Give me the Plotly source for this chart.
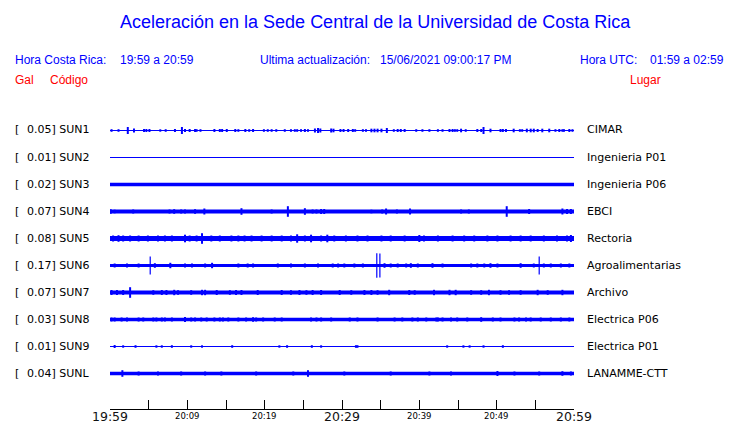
import plotly.graph_objects as go

# ---------------- data ----------------
stations = ["SUN1", "SUN2", "SUN3", "SUN4", "SUN5", "SUN6", "SUN7", "SUN8", "SUN9", "SUNL"]
peak_gal = ["0.05", "0.01", "0.02", "0.07", "0.08", "0.17", "0.07", "0.03", "0.01", "0.04"]
places = ["CIMAR", "Ingenieria P01", "Ingenieria P06", "EBCI", "Rectoria",
          "Agroalimentarias", "Archivo", "Electrica P06", "Electrica P01", "LANAMME-CTT"]

# background noise half-amplitude of each trace (trace spacing = 27 units)
noise_level = [0.6, 0.5, 1.8, 1.9, 2.4, 1.6, 2.0, 1.8, 0.5, 1.7]

# minutes after 19:59 and half-amplitude of visible bursts
sun1_t = [0.2, 1.1, 2.3, 3.1, 4.4, 4.7, 5.1, 6.5, 7.2, 8.4, 9.3, 9.7, 10.3, 11.0, 11.2, 11.7, 13.5, 14.2, 14.5,
          15.1, 16.2, 16.6, 17.5, 18.0, 18.5, 19.9, 20.4, 20.9, 21.5, 22.6, 23.4, 23.9, 24.2, 24.7, 25.2, 25.6,
          26.5, 26.9, 27.2, 28.6, 28.9, 29.8, 30.2, 30.8, 31.4, 31.7, 32.7, 33.1, 33.8, 34.2, 34.6, 35.1, 35.8,
          36.7, 37.2, 37.6, 38.1, 39.6, 40.4, 41.3, 42.4, 43.0, 43.9, 44.3, 44.6, 44.9, 45.4, 46.0, 47.5, 48.0,
          48.3, 49.2, 50.5, 50.8, 51.2, 52.2, 53.0, 53.3, 53.9, 54.4, 54.8, 55.3, 55.9, 56.8, 57.6, 58.1, 58.5,
          58.7, 59.4, 59.8]
sun1_a = [1.3, 1.3, 3.5, 2.0, 1.5, 1.5, 1.5, 1.2, 1.3, 1.5, 3.5, 1.5, 1.5, 1.5, 1.3, 1.3, 1.5, 1.5, 1.5,
          1.5, 1.5, 1.3, 1.5, 1.3, 1.5, 1.3, 1.3, 1.3, 1.3, 1.3, 1.3, 1.3, 1.3, 1.3, 1.5, 1.3,
          2.0, 2.5, 2.0, 2.0, 1.8, 1.5, 1.5, 1.5, 1.5, 1.3, 1.3, 1.3, 1.8, 1.8, 1.8, 1.8, 2.5,
          1.3, 1.5, 1.5, 1.5, 1.3, 1.3, 1.3, 1.3, 1.3, 1.5, 1.5, 1.3, 1.3, 1.8, 1.3, 1.5, 1.5,
          3.5, 1.8, 1.5, 1.5, 1.5, 1.8, 1.3, 1.3, 1.8, 1.8, 1.8, 1.5, 1.8, 1.8, 1.3, 1.5, 1.3,
          1.3, 1.5, 1.3]

sun2_t = []
sun2_a = []

sun3_t = []
sun3_a = []

sun4_t = [0.1, 0.6, 3.0, 6.0, 7.7, 8.3, 9.2, 9.7, 11.0, 12.2, 17.0, 20.9, 23.0, 25.2, 26.2, 26.7, 27.3, 27.7,
          33.8, 35.2, 35.7, 37.1, 38.8, 45.4, 46.4, 51.3, 54.2, 58.5, 59.1, 59.6]
sun4_a = [2.3, 1.8, 2.0, 1.5, 2.0, 2.3, 2.0, 2.0, 2.3, 3.0, 3.3, 2.0, 5.3, 3.3, 2.0, 2.0, 2.5, 2.5,
          1.8, 2.0, 3.0, 2.0, 3.0, 2.0, 2.0, 5.3, 2.5, 3.0, 2.5, 2.5]

sun5_t = [0.4, 1.1, 1.7, 2.6, 3.7, 4.9, 6.2, 7.1, 8.0, 9.7, 10.3, 11.2, 11.9, 13.1, 14.2, 15.7, 16.6, 17.4,
          18.3, 19.6, 20.9, 22.2, 23.4, 24.2, 25.2, 26.0, 27.3, 28.1, 29.0, 30.5, 32.0, 33.3, 35.1, 36.3,
          38.1, 40.0, 40.6, 42.4, 44.3, 45.8, 47.1, 48.8, 50.1, 51.8, 53.1, 54.4, 56.1, 57.8, 59.1, 59.6]
sun5_a = [3.0, 3.3, 3.0, 3.0, 3.0, 3.0, 3.0, 3.0, 3.0, 3.8, 3.0, 3.0, 5.3, 3.0, 3.0, 3.0, 3.0, 3.0,
          3.0, 3.0, 3.0, 3.0, 3.0, 4.2, 3.0, 3.8, 3.0, 3.8, 3.0, 3.0, 3.0, 3.0, 3.0, 3.0,
          3.0, 3.5, 3.0, 3.0, 3.0, 3.0, 3.0, 3.0, 3.0, 3.0, 3.0, 3.0, 3.0, 3.0, 3.0, 3.5]

sun6_t = [0.6, 2.2, 3.7, 5.8, 7.8, 9.7, 10.6, 12.3, 13.2, 16.6, 17.8, 18.5, 21.7, 23.4, 25.2, 26.9, 28.8,
          29.5, 30.3, 31.6, 32.7, 35.5, 36.3, 37.2, 38.3, 38.9, 39.8, 41.7, 43.0, 46.7, 47.5, 48.4, 49.2,
          50.1, 53.1, 54.8, 56.1, 57.0, 58.3, 59.4]
sun6_a = [2.0, 2.0, 2.0, 2.3, 2.7, 2.0, 2.0, 2.0, 2.7, 2.0, 2.0, 2.0, 2.0, 2.0, 2.0, 2.0, 2.0,
          2.0, 2.0, 2.0, 2.0, 2.3, 2.0, 2.0, 2.0, 2.3, 2.0, 2.3, 2.0, 2.0, 2.0, 2.0, 2.3,
          2.0, 2.3, 2.0, 2.0, 2.0, 2.0, 2.0]
sun6_peak_t = [5.2, 34.5, 34.9, 55.5]
sun6_peak_a = [9.0, 12.3, 12.0, 9.0]

sun7_t = [0.2, 0.9, 1.7, 2.6, 5.6, 6.7, 7.3, 8.3, 8.8, 10.5, 11.9, 12.3, 13.8, 15.5, 16.3, 17.0, 19.1, 22.2,
          23.4, 24.5, 25.4, 26.2, 27.3, 29.7, 31.2, 32.9, 33.8, 34.6, 36.1, 38.7, 39.4, 41.9, 43.9, 44.7,
          46.7, 48.0, 49.0, 50.5, 51.6, 53.1, 55.3, 56.6, 58.5]
sun7_a = [2.5, 2.5, 2.5, 5.3, 2.3, 2.5, 2.5, 2.7, 2.3, 2.3, 2.7, 2.7, 2.5, 2.3, 2.5, 2.5, 2.5, 2.5,
          2.3, 2.5, 2.3, 2.5, 2.5, 2.5, 2.3, 2.5, 2.5, 2.3, 2.7, 2.5, 2.3, 2.7, 2.7, 2.7,
          2.3, 2.3, 2.7, 2.3, 2.3, 2.3, 2.7, 2.3, 2.7]

sun8_t = [0.2, 0.6, 1.5, 2.2, 3.7, 4.3, 5.6, 6.0, 6.7, 7.1, 8.0, 9.7, 10.5, 11.0, 11.8, 12.5, 13.5, 14.2,
          14.6, 15.3, 16.6, 17.6, 18.5, 18.9, 19.8, 21.3, 22.2, 26.0, 26.7, 27.3, 28.6, 31.0, 32.0, 34.6,
          36.8, 37.8, 39.1, 39.8, 40.9, 42.2, 42.4, 43.0, 44.1, 44.9, 46.2, 48.0, 49.5, 50.5, 52.3, 52.9,
          53.8, 54.4, 55.7, 57.0, 58.3, 59.4]
sun8_a = [2.0, 2.0, 2.0, 2.0, 2.0, 2.0, 2.0, 2.0, 2.0, 2.0, 2.0, 2.5, 2.0, 2.0, 2.0, 2.0, 2.0, 2.0,
          2.0, 2.0, 2.0, 2.0, 2.3, 2.0, 2.0, 2.0, 2.0, 2.0, 2.0, 2.0, 2.0, 2.0, 2.0, 2.0,
          2.0, 2.0, 2.0, 2.0, 2.0, 2.0, 2.0, 2.0, 2.0, 2.0, 2.0, 2.3, 2.0, 2.0, 2.0, 2.0,
          2.0, 2.0, 2.0, 2.0, 2.0, 2.0]

sun9_t = [0.6, 1.7, 3.3, 6.0, 6.7, 8.0, 10.5, 11.9, 15.8, 21.9, 22.9, 26.1, 27.3, 31.8, 32.0, 43.6, 45.7,
          46.5, 48.3, 50.8]
sun9_a = [1.5, 1.2, 1.3, 1.2, 1.2, 1.3, 1.2, 1.2, 1.3, 1.2, 1.3, 1.3, 1.2, 1.3, 1.3, 1.2, 1.2,
          1.2, 1.2, 1.3]

sunl_t = [1.6, 3.7, 6.2, 9.2, 12.3, 14.4, 18.9, 23.7, 25.6, 30.3, 36.3, 41.3, 44.1, 50.1, 52.3, 55.5, 58.5, 59.6]
sunl_a = [3.3, 2.0, 2.0, 2.0, 2.0, 2.0, 2.0, 2.0, 3.3, 2.0, 2.0, 2.0, 2.0, 2.5, 2.0, 2.0, 2.3, 2.0]

burst_t = [sun1_t, sun2_t, sun3_t, sun4_t, sun5_t, sun6_t, sun7_t, sun8_t, sun9_t, sunl_t]
burst_a = [sun1_a, sun2_a, sun3_a, sun4_a, sun5_a, sun6_a, sun7_a, sun8_a, sun9_a, sunl_a]

tick_minutes = [0, 5, 10, 15, 20, 25, 30, 35, 40, 45, 50, 55, 60]
major_ticks = {0: "19:59", 30: "20:29", 60: "20:59"}
minor_ticks = {10: "20:09", 20: "20:19", 40: "20:39", 50: "20:49"}

title = "Aceleración en la Sede Central de la Universidad de Costa Rica"
update_time = "15/06/2021 09:00:17 PM"

# ---------------- layout constants ----------------
BLUE = "#0000FF"
RED = "#FF0000"
W, H = 740, 423
L, R = 110, 574          # plot area x (px)
TOP, BOT = 115, 409      # plot area y (px)
SPACING = 27
PLOT_FONT = "DejaVu Sans"
HEAD_FONT = "Liberation Sans, Arial, sans-serif"

fig = go.Figure()

for i, st in enumerate(stations):
    c = -i * SPACING
    fig.add_trace(go.Scatter(x=[0, 60], y=[c, c], mode="lines",
                             line=dict(color=BLUE, width=2 * noise_level[i]),
                             hoverinfo="skip", showlegend=False))
    if burst_t[i]:
        fig.add_trace(go.Scatter(x=burst_t[i], y=[c] * len(burst_t[i]), mode="markers",
                                 marker=dict(size=1, color=BLUE),
                                 error_y=dict(type="data", array=burst_a[i], symmetric=True,
                                              width=0, thickness=2, color=BLUE),
                                 hoverinfo="skip", showlegend=False))
    if st == "SUN6":
        fig.add_trace(go.Scatter(x=sun6_peak_t, y=[c] * len(sun6_peak_t), mode="markers",
                                 marker=dict(size=1, color=BLUE),
                                 error_y=dict(type="data", array=sun6_peak_a, symmetric=True,
                                              width=0, thickness=1.2, color=BLUE),
                                 hoverinfo="skip", showlegend=False))


def px(xp):
    return (xp - L) / (R - L)


def py(yp):
    return (BOT - yp) / (BOT - TOP)


annotations = []


def ann(text, xp, yp, size, color, family, xanchor="left"):
    annotations.append(dict(text=text, x=px(xp), y=py(yp), xref="paper", yref="paper",
                            xanchor=xanchor, yanchor="middle", showarrow=False,
                            borderpad=0, borderwidth=0,
                            font=dict(size=size, color=color, family=family)))


ann(title, 375, 22, 18, BLUE, HEAD_FONT, "center")
ann("Hora Costa Rica:", 15, 60, 12, BLUE, HEAD_FONT)
ann("19:59 a 20:59", 120, 60, 12, BLUE, HEAD_FONT)
ann("Ultima actualización:", 260, 60, 12, BLUE, HEAD_FONT)
ann(update_time, 380, 60, 12, BLUE, HEAD_FONT)
ann("Hora UTC:", 580, 60, 12, BLUE, HEAD_FONT)
ann("01:59 a 02:59", 650, 60, 12, BLUE, HEAD_FONT)
ann("Gal", 15, 80, 12, RED, HEAD_FONT)
ann("Código", 50, 80, 12, RED, HEAD_FONT)
ann("Lugar", 630, 80, 12, RED, HEAD_FONT)

for i, st in enumerate(stations):
    yc = TOP + 15 + i * SPACING
    ann("[", 15, yc, 11, "black", PLOT_FONT)
    ann(f"{peak_gal[i]}] {st}", 27, yc, 11, "black", PLOT_FONT)
    ann(places[i], 587, yc, 11, "black", PLOT_FONT)

for m, lab in major_ticks.items():
    annotations.append(dict(text=lab, x=m, y=0, xref="x", yref="paper", xanchor="center",
                            yanchor="middle", yshift=-7, showarrow=False, borderpad=0,
                            font=dict(size=12.5, color="#111111", family=PLOT_FONT)))
for m, lab in minor_ticks.items():
    annotations.append(dict(text=lab, x=m, y=0, xref="x", yref="paper", xanchor="center",
                            yanchor="middle", yshift=-7, showarrow=False, borderpad=0,
                            font=dict(size=8.5, color="black", family=PLOT_FONT)))

fig.update_layout(
    width=W, height=H,
    margin=dict(l=L, r=W - R, t=TOP, b=H - BOT, pad=0),
    paper_bgcolor="white", plot_bgcolor="white",
    showlegend=False,
    annotations=annotations,
    xaxis=dict(range=[0, 60], tickvals=tick_minutes, showticklabels=False,
               ticks="inside", ticklen=9, tickcolor="black", tickwidth=1,
               showline=True, linecolor="black", linewidth=1, showgrid=False,
               zeroline=False, fixedrange=True),
    yaxis=dict(range=[-(len(stations) - 1) * SPACING - 35.5, 15.5], visible=False,
               showgrid=False, zeroline=False, fixedrange=True),
)

fig.write_html("out.html", config={"displayModeBar": False},
               post_script="document.body.style.margin='0px';document.body.style.padding='0px';")
